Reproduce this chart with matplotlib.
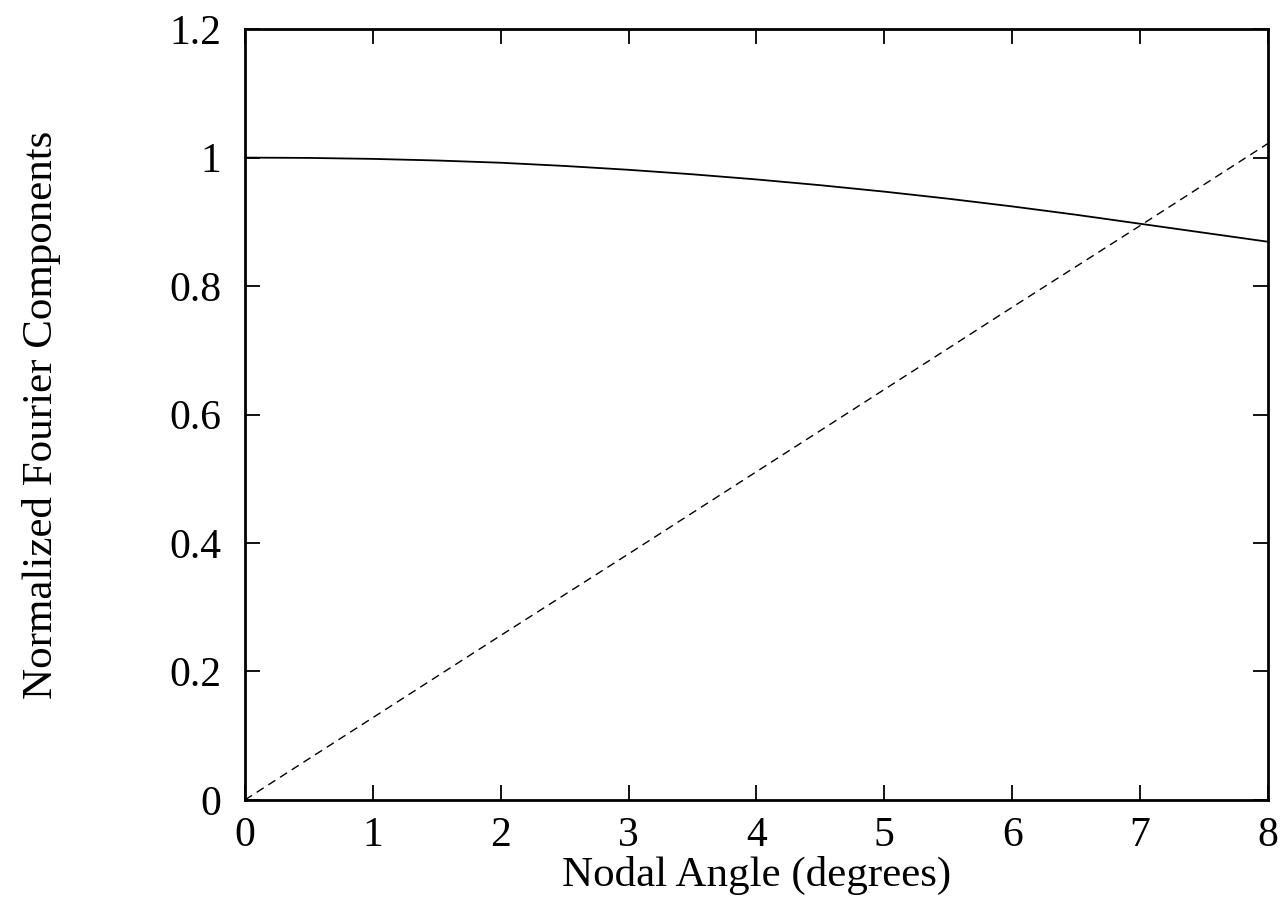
import matplotlib
matplotlib.use("Agg")
import matplotlib.pyplot as plt

# valeurs
angle = [0, 0.5, 1, 1.5, 2, 2.5, 3, 3.5, 4, 4.5, 5, 5.5, 6, 6.5, 7, 7.5, 8]
comp_solid = [1.000, 0.9995, 0.998, 0.9955, 0.992, 0.987, 0.981, 0.974, 0.966,
              0.957, 0.947, 0.936, 0.924, 0.911, 0.897, 0.883, 0.869]
angle_lin = [0, 1, 2, 3, 4, 5, 6, 7, 8]
comp_dashed = [0, 0.128, 0.256, 0.383, 0.511, 0.639, 0.767, 0.894, 1.022]

xticks = [0, 1, 2, 3, 4, 5, 6, 7, 8]
yticks = [0, 0.2, 0.4, 0.6, 0.8, 1.0, 1.2]
ytick_labels = ["0", "0.2", "0.4", "0.6", "0.8", "1", "1.2"]

plt.rcParams['font.family'] = ['Liberation Serif', 'DejaVu Serif']

fig = plt.figure(figsize=(12.84, 9.11), dpi=100)
ax = fig.add_axes([0.1908, 0.122, 0.7967, 0.846])

ax.plot(angle, comp_solid, color="black", linewidth=1.3)
ax.plot(angle_lin, comp_dashed, color="black", linewidth=1.0, dashes=(6, 4))

ax.set_xlim(0, 8)
ax.set_ylim(0, 1.2)
ax.set_xticks(xticks)
ax.set_yticks(yticks)
ax.set_yticklabels(ytick_labels)

ax.tick_params(direction="in", length=11, width=1.3, top=True, right=True,
               labelsize=30)
ax.tick_params(axis="x", pad=12)
ax.tick_params(axis="y", pad=17)
for s in ax.spines.values():
    s.set_linewidth(2.0)

ax.set_xlabel("Nodal Angle (degrees)", fontsize=31, labelpad=1)
ax.set_ylabel("Normalized Fourier Components", fontsize=31, labelpad=78)

fig.savefig("out.png", dpi=100)
